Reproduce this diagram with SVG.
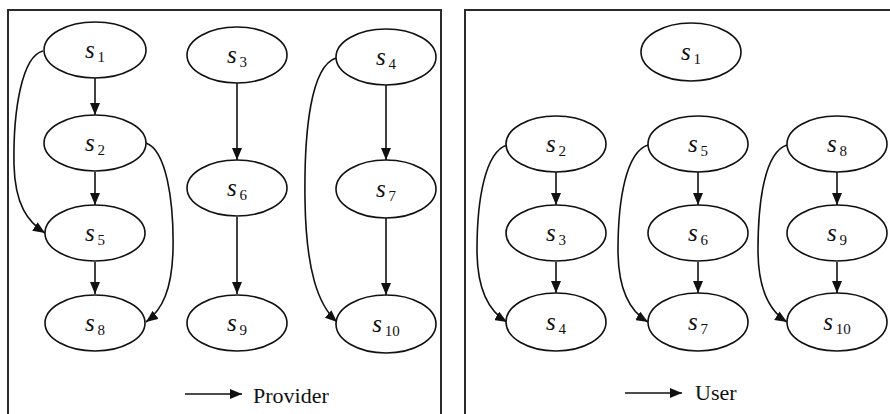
<svg xmlns="http://www.w3.org/2000/svg" width="890" height="414" viewBox="0 0 890 414">
<style>
.panel{fill:none;stroke:#2a2a2a;stroke-width:2}
.node ellipse{fill:#fff;stroke:#111;stroke-width:1.6}
.edge{fill:none;stroke:#111;stroke-width:1.6;marker-end:url(#ah)}
.t{font-family:"Times New Roman","Liberation Serif","DejaVu Serif",serif;fill:#111}
</style>
<defs>
<marker id="ah" viewBox="0 0 12 10" refX="12" refY="5" markerWidth="12" markerHeight="10" markerUnits="userSpaceOnUse" orient="auto">
<path d="M0,0 L12,5 L0,10 z" fill="#111"/>
</marker>
</defs>
<rect width="890" height="414" fill="#fff"/>
<rect class="panel" x="8" y="10" width="433" height="420"/>
<rect class="panel" x="465" y="10" width="440" height="420"/>

<g id="connectors">
<path class="edge" d="M95,78 L95,115"/>
<path class="edge" d="M95,172 L95,205"/>
<path class="edge" d="M95,262 L95,294"/>
<path class="edge" d="M237,83 L237,160"/>
<path class="edge" d="M237,217 L237,294"/>
<path class="edge" d="M386,85 L386,160"/>
<path class="edge" d="M386,218 L386,295"/>
<path class="edge" d="M43,51 C22,56 13,110 14,165 C15,205 28,222 45,233"/>
<path class="edge" d="M146,143 C166,150 174,200 173,250 C172,290 162,310 146,322"/>
<path class="edge" d="M336,58 C311,66 304,130 305,200 C306,270 318,305 337,322"/>
<path class="edge" d="M556,172 L556,205"/>
<path class="edge" d="M556,262 L556,293"/>
<path class="edge" d="M698,172 L698,205"/>
<path class="edge" d="M698,262 L698,293"/>
<path class="edge" d="M837,172 L837,205"/>
<path class="edge" d="M837,262 L837,293"/>
<path class="edge" d="M507,145 C485,152 477,200 477,250 C477,292 490,312 507,322"/>
<path class="edge" d="M648,145 C626,152 618,200 618,250 C618,292 631,312 648,322"/>
<path class="edge" d="M787,145 C765,152 758,200 758,250 C758,292 771,312 787,322"/>
<path class="edge" d="M185,394 L242,394"/>
<path class="edge" d="M625,393 L682,393"/>
</g>

<g class="t" font-size="25" text-anchor="middle">
<g id="p-s1" class="node"><ellipse cx="95" cy="50" rx="51" ry="28"/><text x="95" y="58"><tspan font-style="italic">s</tspan><tspan font-size="15" dx="3" dy="4">1</tspan></text></g>
<g id="p-s2" class="node"><ellipse cx="95" cy="143" rx="51" ry="28"/><text x="95" y="151"><tspan font-style="italic">s</tspan><tspan font-size="15" dx="3" dy="4">2</tspan></text></g>
<g id="p-s5" class="node"><ellipse cx="95" cy="233" rx="50" ry="28"/><text x="95" y="241"><tspan font-style="italic">s</tspan><tspan font-size="15" dx="3" dy="4">5</tspan></text></g>
<g id="p-s8" class="node"><ellipse cx="95" cy="323" rx="50" ry="28"/><text x="95" y="331"><tspan font-style="italic">s</tspan><tspan font-size="15" dx="3" dy="4">8</tspan></text></g>
<g id="p-s3" class="node"><ellipse cx="237" cy="55" rx="50" ry="28"/><text x="237" y="63"><tspan font-style="italic">s</tspan><tspan font-size="15" dx="3" dy="4">3</tspan></text></g>
<g id="p-s6" class="node"><ellipse cx="237" cy="188" rx="50" ry="28"/><text x="237" y="196"><tspan font-style="italic">s</tspan><tspan font-size="15" dx="3" dy="4">6</tspan></text></g>
<g id="p-s9" class="node"><ellipse cx="237" cy="323" rx="50" ry="28"/><text x="237" y="331"><tspan font-style="italic">s</tspan><tspan font-size="15" dx="3" dy="4">9</tspan></text></g>
<g id="p-s4" class="node"><ellipse cx="386" cy="57" rx="50" ry="28"/><text x="386" y="65"><tspan font-style="italic">s</tspan><tspan font-size="15" dx="3" dy="4">4</tspan></text></g>
<g id="p-s7" class="node"><ellipse cx="386" cy="189" rx="50" ry="29"/><text x="386" y="197"><tspan font-style="italic">s</tspan><tspan font-size="15" dx="3" dy="4">7</tspan></text></g>
<g id="p-s10" class="node"><ellipse cx="386" cy="324" rx="50" ry="29"/><text x="386" y="332"><tspan font-style="italic">s</tspan><tspan font-size="15" dx="3" dy="4">10</tspan></text></g>

<g id="u-s1" class="node"><ellipse cx="691" cy="52" rx="50" ry="29"/><text x="691" y="60"><tspan font-style="italic">s</tspan><tspan font-size="15" dx="3" dy="4">1</tspan></text></g>
<g id="u-s2" class="node"><ellipse cx="556" cy="144" rx="50" ry="28"/><text x="556" y="152"><tspan font-style="italic">s</tspan><tspan font-size="15" dx="3" dy="4">2</tspan></text></g>
<g id="u-s3" class="node"><ellipse cx="556" cy="233" rx="50" ry="28"/><text x="556" y="241"><tspan font-style="italic">s</tspan><tspan font-size="15" dx="3" dy="4">3</tspan></text></g>
<g id="u-s4" class="node"><ellipse cx="556" cy="322" rx="50" ry="29"/><text x="556" y="330"><tspan font-style="italic">s</tspan><tspan font-size="15" dx="3" dy="4">4</tspan></text></g>
<g id="u-s5" class="node"><ellipse cx="698" cy="144" rx="50" ry="28"/><text x="698" y="152"><tspan font-style="italic">s</tspan><tspan font-size="15" dx="3" dy="4">5</tspan></text></g>
<g id="u-s6" class="node"><ellipse cx="698" cy="233" rx="50" ry="28"/><text x="698" y="241"><tspan font-style="italic">s</tspan><tspan font-size="15" dx="3" dy="4">6</tspan></text></g>
<g id="u-s7" class="node"><ellipse cx="698" cy="322" rx="50" ry="29"/><text x="698" y="330"><tspan font-style="italic">s</tspan><tspan font-size="15" dx="3" dy="4">7</tspan></text></g>
<g id="u-s8" class="node"><ellipse cx="837" cy="144" rx="50" ry="28"/><text x="837" y="152"><tspan font-style="italic">s</tspan><tspan font-size="15" dx="3" dy="4">8</tspan></text></g>
<g id="u-s9" class="node"><ellipse cx="837" cy="233" rx="50" ry="28"/><text x="837" y="241"><tspan font-style="italic">s</tspan><tspan font-size="15" dx="3" dy="4">9</tspan></text></g>
<g id="u-s10" class="node"><ellipse cx="837" cy="322" rx="50" ry="29"/><text x="837" y="330"><tspan font-style="italic">s</tspan><tspan font-size="15" dx="3" dy="4">10</tspan></text></g>

<g id="legend" text-anchor="start" font-size="22">
<text x="253" y="403">Provider</text>
<text x="695" y="400">User</text>
</g>
</g>
</svg>
